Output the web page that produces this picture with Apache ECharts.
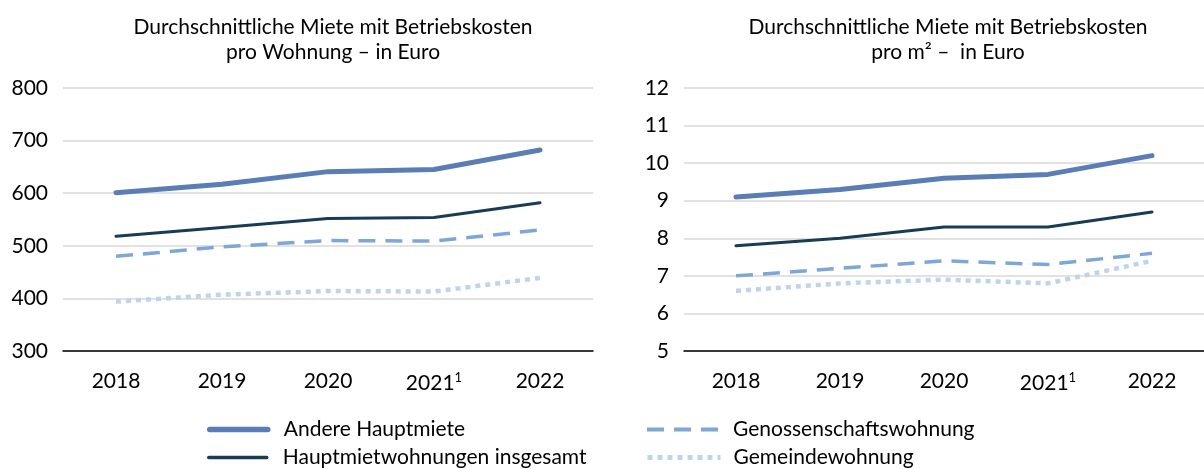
<!DOCTYPE html>
<html><head><meta charset="utf-8">
<script src="https://cdn.jsdelivr.net/npm/echarts@6/dist/echarts.min.js"></script>
<style>html,body{margin:0;padding:0;background:#fff}#c{width:1204px;height:469px}</style>
</head><body><div id="c"></div>
<script>
const years = ['2018','2019','2020','2021¹','2022'];
const titleLeft = 'Durchschnittliche Miete mit Betriebskosten\npro Wohnung – in Euro';
const titleRight = 'Durchschnittliche Miete mit Betriebskosten\npro m² –  in Euro';
const seriesNames = ['Andere Hauptmiete','Hauptmietwohnungen insgesamt','Genossenschaftswohnung','Gemeindewohnung'];
// per Wohnung (Euro)
const andereWohnung = [601, 617, 641, 645, 682];
const hauptWohnung = [518, 535, 552, 554, 582];
const genoWohnung = [480, 498, 510, 509, 530];
const gemeindeWohnung = [394, 407, 414, 413, 439];
// per m² (Euro)
const andereM2 = [9.1, 9.3, 9.6, 9.7, 10.2];
const hauptM2 = [7.8, 8.0, 8.3, 8.3, 8.7];
const genoM2 = [7.0, 7.2, 7.4, 7.3, 7.6];
const gemeindeM2 = [6.6, 6.8, 6.9, 6.8, 7.4];

const FONT = 'Lato';
const styles = [
  {color:'#5a7db5', width:5, type:'solid', cap:'round'},
  {color:'#173c55', width:3, type:'solid', cap:'round'},
  {color:'#7ea6d6', width:3.5, type:[17,10], cap:'butt'},
  {color:'#bdd5ea', width:4.5, type:[5,5], cap:'butt'}
];
function mk(name, data, gi){
  const s = styles[seriesNames.indexOf(name)];
  return {name:name, type:'line', data:data, xAxisIndex:gi, yAxisIndex:gi, symbol:'none',
    z: 10-seriesNames.indexOf(name),
    lineStyle:{color:s.color, width:s.width, type:s.type, cap:s.cap},
    itemStyle:{color:s.color}};
}
const xLabel = {interval:0, fontFamily:FONT, fontSize:21, color:'#000', margin:20,
  formatter: v => v.endsWith('¹') ? v.slice(0,-1)+'{s|1}' : v,
  rich:{s:{fontFamily:FONT, fontSize:13, color:'#000', verticalAlign:'top', padding:[0,0,12,0]}}};
function xa(gi){return {type:'category', gridIndex:gi, data:years, boundaryGap:true,
  axisLine:{lineStyle:{color:'#000', width:1.5}},
  axisTick:{interval:0, alignWithLabel:true, length:6, lineStyle:{color:'#000', width:1.5}},
  axisLabel:xLabel};}
function ya(gi,min,max,interval){return {type:'value', gridIndex:gi, min:min, max:max, interval:interval,
  axisLine:{show:false}, axisTick:{show:false},
  splitLine:{lineStyle:{color:'#d9d9d9', width:1.5}},
  axisLabel:{fontFamily:FONT, fontSize:21, color:'#000', margin:15}};}
function lg(i, left, top, w, pad){
  const s = styles[i];
  return {data:[seriesNames[i]], left:left, top:top, padding:0, itemWidth:w, itemHeight:12,
    itemStyle:{opacity:0},
    lineStyle:{width:s.width + 0.5, type:s.type, cap:s.cap, color:s.color},
    textStyle:{fontFamily:FONT, fontSize:21, color:'#000', padding:[0,0,0,pad]}};
}
const tStyle = {fontFamily:FONT, fontSize:21, fontWeight:'normal', color:'#000', lineHeight:25};

const chart = echarts.init(document.getElementById('c'), null, {renderer:'canvas'});
chart.setOption({
  animation:false,
  title:[
    {text:titleLeft, left:333, top:15, padding:0, textAlign:'center', textStyle:tStyle},
    {text:titleRight, left:948, top:15, padding:0, textAlign:'center', textStyle:tStyle}
  ],
  grid:[
    {left:63, top:88, width:530, height:263},
    {left:684, top:88, width:530, height:263}
  ],
  xAxis:[xa(0), xa(1)],
  yAxis:[ya(0,300,800,100), ya(1,5,12,1)],
  legend:[
    lg(0, 207, 419, 58, 11),
    lg(1, 207, 447, 58, 11),
    lg(2, 645, 419, 73, 8),
    lg(3, 645, 447, 73, 8)
  ],
  series:[
    mk(seriesNames[0], andereWohnung, 0),
    mk(seriesNames[1], hauptWohnung, 0),
    mk(seriesNames[2], genoWohnung, 0),
    mk(seriesNames[3], gemeindeWohnung, 0),
    mk(seriesNames[0], andereM2, 1),
    mk(seriesNames[1], hauptM2, 1),
    mk(seriesNames[2], genoM2, 1),
    mk(seriesNames[3], gemeindeM2, 1)
  ]
});
</script></body></html>
